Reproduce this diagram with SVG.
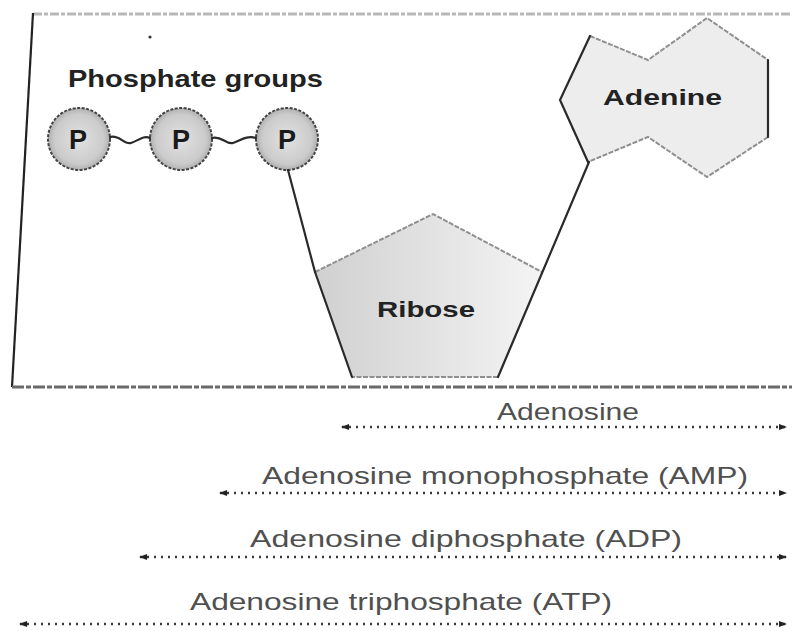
<svg xmlns="http://www.w3.org/2000/svg" width="792" height="631" viewBox="0 0 792 631">
  <style>
    .lbl { font-family: "Liberation Sans", Arial, sans-serif; fill: #222; font-weight: bold; }
    .span { font-family: "Liberation Sans", Arial, sans-serif; fill: #505050; font-size: 24px; }
    .dots { stroke: #3a3a3a; stroke-width: 2.4; stroke-dasharray: 2 5; fill: none; }
    .ball { fill: url(#ballFill); stroke: #444; stroke-width: 2; stroke-dasharray: 3 1.5; }
    .pletter { font-family: "Liberation Sans", Arial, sans-serif; font-weight: bold; font-size: 27px; fill: #1a1a1a; text-anchor: middle; }
    .dark { stroke: #2a2a2a; stroke-width: 2.2; fill: none; stroke-linecap: round; }
    .light { stroke: #8f8f8f; stroke-width: 2; fill: none; stroke-dasharray: 5 1.5; }
  </style>
  <defs>
    <radialGradient id="ballFill" cx="0.5" cy="0.5" r="0.5">
      <stop offset="0" stop-color="#e2e2e2"/>
      <stop offset="0.8" stop-color="#cbcbcb"/>
      <stop offset="1" stop-color="#b0b0b0"/>
    </radialGradient>
    <linearGradient id="riboseFill" x1="0" y1="0" x2="1" y2="0">
      <stop offset="0" stop-color="#d0d0d0"/>
      <stop offset="1" stop-color="#f4f4f4"/>
    </linearGradient>
    <marker id="arr" viewBox="0 0 8 6" refX="7" refY="3" markerWidth="8" markerHeight="6" markerUnits="userSpaceOnUse" orient="auto-start-reverse">
      <path d="M0,0 L8,3 L0,6 z" fill="#222"/>
    </marker>
  </defs>

  <rect width="792" height="631" fill="#ffffff"/>

  <g id="frame">
    <line x1="33" y1="14" x2="792" y2="14" stroke="#b8b8b8" stroke-width="3" stroke-dasharray="9 2 4 2"/>
    <line x1="33" y1="13" x2="12" y2="387" stroke="#222" stroke-width="2.2"/>
    <line x1="12" y1="387" x2="792" y2="387" stroke="#6a6a6a" stroke-width="3" stroke-dasharray="12 2 5 2"/>
    <circle cx="150" cy="37" r="1.6" fill="#333"/>
  </g>

  <g id="phosphate-groups-label">
    <text class="lbl" x="68" y="87" font-size="24" textLength="255" lengthAdjust="spacingAndGlyphs">Phosphate groups</text>
  </g>

  <g id="phosphate-1">
    <circle class="ball" cx="79" cy="139" r="31"/>
    <text class="pletter" x="78" y="149">P</text>
  </g>
  <g id="phosphate-2">
    <circle class="ball" cx="181" cy="139" r="31"/>
    <text class="pletter" x="181" y="149">P</text>
  </g>
  <g id="phosphate-3">
    <circle class="ball" cx="287" cy="139" r="31"/>
    <text class="pletter" x="287" y="149">P</text>
  </g>

  <g id="ribose">
    <polygon points="315,272 433,214 542,272 498,377 352,377" fill="url(#riboseFill)" stroke="none"/>
    <polyline class="light" points="315,272 433,214 542,272"/>
    <line class="light" x1="498" y1="377" x2="352" y2="377"/>
    <line class="dark" x1="315" y1="272" x2="352" y2="377"/>
    <text class="lbl" x="377" y="317" font-size="22" textLength="98" lengthAdjust="spacingAndGlyphs">Ribose</text>
  </g>

  <g id="adenine">
    <polygon points="560,100 590,36 648,60 707,18 768,60 768,137 707,177 648,137 588,162" fill="#ededed" stroke="none"/>
    <polyline class="light" points="590,36 648,60 707,18 768,60"/>
    <polyline class="light" points="768,137 707,177 648,137 588,162"/>
    <polyline class="dark" points="590,36 560,100 588,162"/>
    <line class="dark" x1="768" y1="60" x2="768" y2="137"/>
    <text class="lbl" x="603" y="105" font-size="22" textLength="119" lengthAdjust="spacingAndGlyphs">Adenine</text>
  </g>

  <g id="connectors">
    <path class="dark" d="M110,137 C119,134 124,145 131,143 S143,135 150,138" stroke-width="2.6"/>
    <path class="dark" d="M212,138 C221,135 226,145 233,143 S246,135 256,138" stroke-width="2.6"/>
    <line class="dark" x1="288" y1="170" x2="315" y2="272"/>
    <line class="dark" x1="498" y1="377" x2="589" y2="162"/>
  </g>

  <g id="spans">
    <g id="span-adenosine">
      <text class="span" x="497" y="420" textLength="142" lengthAdjust="spacingAndGlyphs">Adenosine</text>
      <line class="dots" x1="342" y1="427" x2="786" y2="427" marker-start="url(#arr)" marker-end="url(#arr)"/>
    </g>
    <g id="span-amp">
      <text class="span" x="262" y="484" textLength="486" lengthAdjust="spacingAndGlyphs">Adenosine monophosphate (AMP)</text>
      <line class="dots" x1="220" y1="493" x2="786" y2="493" marker-start="url(#arr)" marker-end="url(#arr)"/>
    </g>
    <g id="span-adp">
      <text class="span" x="250" y="547" textLength="432" lengthAdjust="spacingAndGlyphs">Adenosine diphosphate (ADP)</text>
      <line class="dots" x1="140" y1="557" x2="786" y2="557" marker-start="url(#arr)" marker-end="url(#arr)"/>
    </g>
    <g id="span-atp">
      <text class="span" x="190" y="610" textLength="422" lengthAdjust="spacingAndGlyphs">Adenosine triphosphate (ATP)</text>
      <line class="dots" x1="20" y1="624" x2="786" y2="624" marker-start="url(#arr)" marker-end="url(#arr)"/>
    </g>
  </g>
</svg>
